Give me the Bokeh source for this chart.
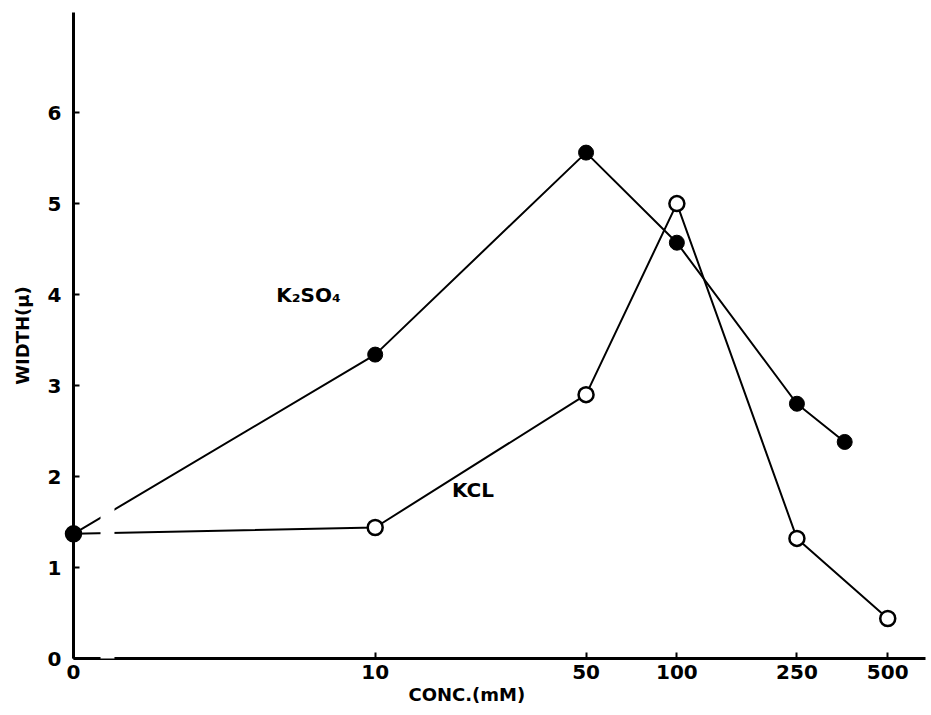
import math
from bokeh.plotting import figure
from bokeh.models import Range1d, FixedTicker, Label, BoxAnnotation, ColumnDataSource, Title
from bokeh.embed import file_html
from bokeh.resources import INLINE

# ---- data ----
x_tick_values = [0, 10, 50, 100, 250, 500]
x_tick_labels = ["0", "10", "50", "100", "250", "500"]
y_tick_values = [0, 1, 2, 3, 4, 5, 6]

kcl_conc = [0, 10, 50, 100, 250, 500]
kcl_width = [1.37, 1.44, 2.90, 5.00, 1.32, 0.44]

k2so4_conc = [0, 10, 50, 100, 250, 360]
k2so4_width = [1.37, 3.34, 5.56, 4.57, 2.80, 2.38]

ZERO_AT = 1  # the "0" concentration is drawn at 1 mM on the log axis


def pos(values):
    return [ZERO_AT if v == 0 else v for v in values]


FONT = "DejaVu Sans"

p = figure(width=931, height=715, x_axis_type="log",
           x_range=Range1d(1, 667), y_range=Range1d(0, 7.1),
           output_backend="svg", toolbar_location=None,
           min_border_left=73, min_border_right=6,
           min_border_top=12, min_border_bottom=57)
p.outline_line_color = None
p.xgrid.visible = False
p.ygrid.visible = False
p.background_fill_color = "white"
p.border_fill_color = "white"

xt = pos(x_tick_values)
p.xaxis.ticker = FixedTicker(ticks=xt)
p.xaxis.major_label_overrides = {t: l for t, l in zip(xt, x_tick_labels)}
p.yaxis.ticker = FixedTicker(ticks=y_tick_values)

for ax in (p.xaxis, p.yaxis):
    ax.axis_line_width = 3
    ax.axis_line_color = "black"
    ax.major_tick_line_width = 2
    ax.major_tick_in = 6
    ax.major_tick_out = 0
    ax.minor_tick_line_color = None
    ax.major_label_text_font = FONT
    ax.major_label_text_font_style = "bold"
    ax.major_label_text_font_size = "20px"
    ax.major_label_text_color = "black"
p.xaxis.major_label_standoff = 6
p.yaxis.major_label_standoff = 12

p.yaxis.axis_label = "WIDTH(μ)"
p.yaxis.axis_label_text_font = FONT
p.yaxis.axis_label_text_font_style = "bold"
p.yaxis.axis_label_text_font_size = "18px"
p.yaxis.axis_label_text_color = "black"
p.yaxis.axis_label_standoff = 12

p.add_layout(Title(text="CONC.(mM)", align="left", offset=335,
                   text_font=FONT, text_font_style="bold",
                   text_font_size="18px", text_color="black",
                   standoff=0), "below")

kcl = ColumnDataSource(dict(x=pos(kcl_conc), y=kcl_width))
k2 = ColumnDataSource(dict(x=pos(k2so4_conc), y=k2so4_width))

p.line("x", "y", source=kcl, line_color="black", line_width=2)
p.line("x", "y", source=k2, line_color="black", line_width=2)

# axis-break gap between 0 and 10
p.add_layout(BoxAnnotation(left=1.229, right=1.367, bottom=-0.1, top=1.75,
                           fill_color="white", fill_alpha=1.0,
                           line_color=None, level="annotation"))

p.scatter("x", "y", source=kcl, size=15, fill_color="white",
          line_color="black", line_width=2.5, level="overlay")
p.scatter("x", "y", source=k2, size=15, fill_color="black",
          line_color="black", line_width=1, level="overlay")

p.add_layout(Label(x=4.7, y=4.0, text="K₂SO₄", text_font=FONT,
                   text_font_style="bold", text_font_size="20px",
                   text_color="black",
                   text_align="left", text_baseline="alphabetic"))
p.add_layout(Label(x=21.1, y=1.85, text="KCL", text_font=FONT,
                   text_font_style="bold", text_font_size="20px",
                   text_color="black",
                   text_align="center", text_baseline="middle"))

open("out.html", "w").write(file_html(p, INLINE))
